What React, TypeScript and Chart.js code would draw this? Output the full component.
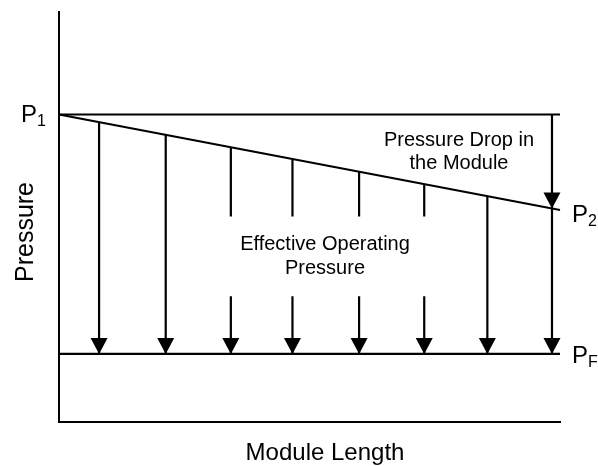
import React, { useEffect, useRef } from "react";
import { Chart, registerables } from "chart.js";

Chart.register(...registerables);

// ---- data (diagram values, arbitrary units) ----
const lengthMin = 0;
const lengthMax = 100;
const pressureMin = 0;
const pressureMax = 100;
const inletPressure = 75; // P1
const outletPressure = 51.7; // P2
const feedLevelPressure = 16.6; // PF
const arrowX = [8.0, 21.3, 34.3, 46.6, 59.9, 72.9, 85.5, 98.4];
const arrowTop = [73.1, 70.0, 67.0, 64.1, 61.0, 58.0, 55.1, 52.1];
const arrowBroken = [false, false, true, true, true, true, false, false];
const gapTop = 50.1;
const gapBottom = 30.7;
const dropArrowIndex = 7;

const FONT = '"Liberation Sans", Arial, Helvetica, sans-serif';
const INK = "#000000";

function seg(data: { x: number; y: number }[], arrow = false) {
  return {
    data,
    showLine: true,
    borderColor: INK,
    backgroundColor: INK,
    borderWidth: 2.2,
    pointRadius: 0,
    pointHoverRadius: 0,
    tension: 0,
    fill: false,
    clip: false as any,
    arrow,
  } as any;
}

function buildDatasets() {
  const ds: any[] = [];
  ds.push(seg([{ x: lengthMin, y: inletPressure }, { x: lengthMax, y: inletPressure }]));
  ds.push(seg([{ x: lengthMin, y: inletPressure }, { x: lengthMax, y: outletPressure }]));
  ds.push(seg([{ x: lengthMin, y: feedLevelPressure }, { x: lengthMax, y: feedLevelPressure }]));
  arrowX.forEach((x, i) => {
    if (arrowBroken[i]) {
      ds.push(seg([{ x, y: arrowTop[i] }, { x, y: gapTop }]));
      ds.push(seg([{ x, y: gapBottom }, { x, y: feedLevelPressure }], true));
    } else {
      ds.push(seg([{ x, y: arrowTop[i] }, { x, y: feedLevelPressure }], true));
    }
  });
  const dx = arrowX[dropArrowIndex];
  ds.push(seg([{ x: dx, y: inletPressure }, { x: dx, y: arrowTop[dropArrowIndex] }], true));
  return ds;
}

const arrowHeads = {
  id: "arrowHeads",
  afterDatasetsDraw(chart: any) {
    const ctx = chart.ctx;
    chart.data.datasets.forEach((d: any, i: number) => {
      if (!d.arrow) return;
      const pts = chart.getDatasetMeta(i).data;
      if (pts.length < 2) return;
      const a = pts[pts.length - 2];
      const b = pts[pts.length - 1];
      const ang = Math.atan2(b.y - a.y, b.x - a.x);
      const len = 16;
      const half = 8.5;
      ctx.save();
      ctx.translate(b.x, b.y);
      ctx.rotate(ang);
      ctx.beginPath();
      ctx.moveTo(0, 0);
      ctx.lineTo(-len, -half);
      ctx.lineTo(-len, half);
      ctx.closePath();
      ctx.fillStyle = INK;
      ctx.fill();
      ctx.restore();
    });
  },
};

const labels = {
  id: "labels",
  afterDraw(chart: any) {
    const ctx = chart.ctx;
    ctx.save();
    ctx.fillStyle = INK;
    ctx.textBaseline = "alphabetic";

    const sub = (main: string, s: string, x: number, y: number) => {
      ctx.textAlign = "left";
      ctx.font = `24px ${FONT}`;
      ctx.fillText(main, x, y);
      const w = ctx.measureText(main).width;
      ctx.font = `16px ${FONT}`;
      ctx.fillText(s, x + w, y + 3.5);
    };
    sub("P", "1", 21, 122);
    sub("P", "2", 572, 222);
    sub("P", "F", 572, 363);

    ctx.textAlign = "center";
    ctx.font = `20px ${FONT}`;
    ctx.fillText("Pressure Drop in", 459, 146);
    ctx.fillText("the Module", 459, 169);
    ctx.fillText("Effective Operating", 325, 250);
    ctx.fillText("Pressure", 325, 274);

    ctx.font = `24px ${FONT}`;
    ctx.fillText("Module Length", 325, 460);

    ctx.save();
    ctx.font = `25px ${FONT}`;
    ctx.translate(33, 232);
    ctx.rotate(-Math.PI / 2);
    ctx.fillText("Pressure", 0, 0);
    ctx.restore();

    ctx.restore();
  },
};

export default function App() {
  const ref = useRef<HTMLCanvasElement | null>(null);
  useEffect(() => {
    if (!ref.current) return;
    const chart = new Chart(ref.current, {
      type: "scatter",
      data: { datasets: buildDatasets() },
      options: {
        responsive: false,
        animation: false,
        devicePixelRatio: 1,
        layout: { padding: { left: 59, right: 38, top: 12, bottom: 44 } },
        plugins: { legend: { display: false }, tooltip: { enabled: false }, title: { display: false } },
        events: [],
        scales: {
          x: {
            type: "linear",
            min: lengthMin,
            max: lengthMax,
            ticks: { display: false },
            grid: { display: false, drawTicks: false },
            border: { display: true, color: INK, width: 2 },
            title: { display: false },
          },
          y: {
            type: "linear",
            min: pressureMin,
            max: pressureMax,
            ticks: { display: false },
            grid: { display: false, drawTicks: false },
            border: { display: true, color: INK, width: 2 },
            title: { display: false },
          },
        },
      },
      plugins: [arrowHeads, labels],
    });
    return () => chart.destroy();
  }, []);
  return (
    <div style={{ position: "absolute", left: 0, top: 0, width: 598, height: 466, background: "#fff" }}>
      <canvas ref={ref} width={598} height={466} style={{ width: 598, height: 466, display: "block" }} />
    </div>
  );
}
